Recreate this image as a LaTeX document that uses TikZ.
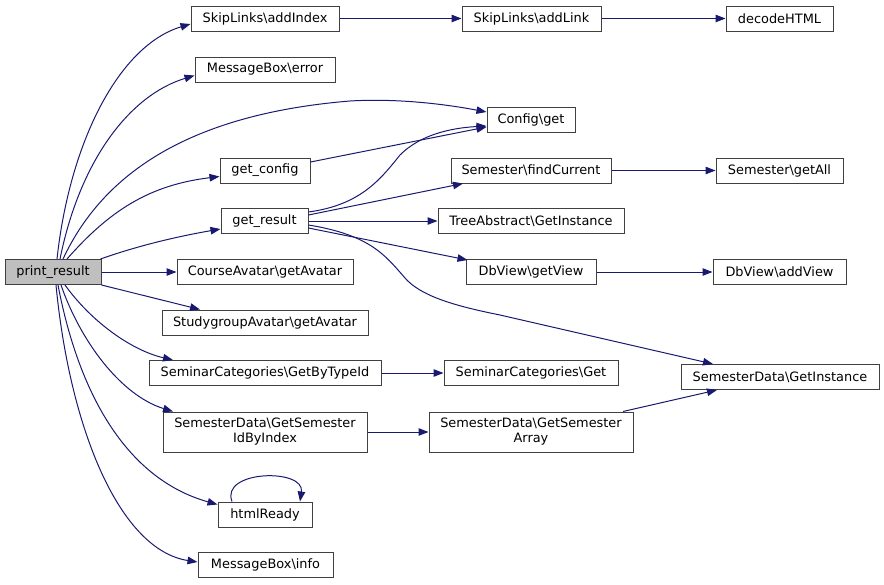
\documentclass[tikz,border=0pt]{standalone}
\usepackage{fontspec}
\setmainfont{DejaVu Sans}
\usetikzlibrary{arrows.meta}
\definecolor{edgec}{HTML}{191970}
\definecolor{boxc}{HTML}{404040}
\definecolor{hil}{HTML}{BFBFBF}
\begin{document}
\begin{tikzpicture}[x=1pt,y=-1pt,
  box/.style={draw=boxc,line width=1pt,inner sep=0pt,minimum height=25pt,font=\fontsize{12.9}{15}\selectfont,align=center},
  tall/.style={box,minimum height=40pt},
  edge/.style={draw=edgec,line width=1pt,-{Triangle[length=10pt,width=7.5pt]},fill=none},
]
\useasboundingbox (0,0) rectangle (884,584);
\node[box,fill=hil,minimum width=96pt] (pr) at (53,272) {print\_result};
\node[box,minimum width=148pt] (addIndex) at (265,18.5) {SkipLinks\textbackslash addIndex};
\node[box,minimum width=139pt] (addLink) at (531.5,18.5) {SkipLinks\textbackslash addLink};
\node[box,minimum width=107pt] (decode) at (779.5,18.5) {decodeHTML};
\node[box,minimum width=140pt] (mberror) at (265,69.5) {MessageBox\textbackslash error};
\node[box,minimum width=88pt] (cfg) at (531,119.5) {Config\textbackslash get};
\node[box,minimum width=90pt] (getcfg) at (265,170.5) {get\_config};
\node[box,minimum width=160pt] (findcur) at (531,170.5) {Semester\textbackslash findCurrent};
\node[box,minimum width=127pt] (getall) at (779.5,170.5) {Semester\textbackslash getAll};
\node[box,minimum width=87pt] (getres) at (264.5,221) {get\_result};
\node[box,minimum width=186pt] (tree) at (531,221) {TreeAbstract\textbackslash GetInstance};
\node[box,minimum width=130pt] (getview) at (531,272) {DbView\textbackslash getView};
\node[box,minimum width=133pt] (addview) at (779.5,272) {DbView\textbackslash addView};
\node[box,minimum width=176pt] (course) at (265,272) {CourseAvatar\textbackslash getAvatar};
\node[box,minimum width=206pt] (study) at (265,322.5) {StudygroupAvatar\textbackslash getAvatar};
\node[box,minimum width=232pt] (bytype) at (265,373) {SeminarCategories\textbackslash GetByTypeId};
\node[box,minimum width=174pt] (semget) at (531,373) {SeminarCategories\textbackslash Get};
\node[box,minimum width=198pt] (sdinst) at (780,377) {SemesterData\textbackslash GetInstance};
\node[tall,minimum width=204pt] (idbyidx) at (265,432) {SemesterData\textbackslash GetSemester\\IdByIndex};
\node[tall,minimum width=204pt] (semarr) at (531,432) {SemesterData\textbackslash GetSemester\\Array};
\node[box,minimum width=94pt] (html) at (265,514.5) {htmlReady};
\node[box,minimum width=135pt] (info) at (265.5,565) {MessageBox\textbackslash info};

% edges from print_result
\draw[edge] ([xshift=4]pr.north) .. controls (70,140) and (120,45) .. ([yshift=-5.5]addIndex.west);
\draw[edge] ([xshift=7]pr.north) .. controls (80,160) and (130,95) .. ([yshift=-6]mberror.west);
\draw[edge] ([xshift=10]pr.north) .. controls (100,180) and (180,115) .. (350,101) .. controls (400,98) and (450,105) .. ([yshift=7.5]cfg.west);
\draw[edge] ([xshift=14]pr.north) .. controls (110,210) and (150,185) .. ([yshift=-6]getcfg.west);
\draw[edge] ([xshift=-1]pr.north east) .. controls (140,245) and (180,236) .. ([yshift=-8]getres.west);
\draw[edge] (pr.east) -- (course.west);
\draw[edge] (pr.south east) -- ([xshift=-65]study.north);
\draw[edge] ([xshift=12]pr.south) .. controls (90,320) and (130,350) .. ([xshift=-92]bytype.north);
\draw[edge] ([xshift=8]pr.south) .. controls (80,340) and (120,395) .. ([xshift=-92]idbyidx.north);
\draw[edge] ([xshift=5]pr.south) .. controls (80,400) and (130,480) .. ([yshift=10]html.west);
\draw[edge] ([xshift=3]pr.south) .. controls (70,430) and (120,550) .. ([yshift=3]info.west);

% other edges
\draw[edge] (addIndex.east) -- (addLink.west);
\draw[edge] (addLink.east) -- (decode.west);
\draw[edge] ([yshift=8.5]getcfg.east) -- ([yshift=-7.5]cfg.west);
\draw[edge] ([yshift=9]getres.east) .. controls (360,205) and (380,180) .. (400,155) .. controls (420,135) and (450,128) .. ([yshift=-6.5]cfg.west);
\draw[edge] ([yshift=6]getres.east) -- ([xshift=-68]findcur.south);
\draw[edge] (findcur.east) -- (getall.west);
\draw[edge] (getres.east) -- (tree.west);
\draw[edge] ([yshift=-7]getres.east) -- ([xshift=2,yshift=-1]getview.north west);
\draw[edge] ([yshift=-4]getres.east) .. controls (370,235) and (385,255) .. (405,278) .. controls (420,295) and (450,305) .. (500,315) -- ([xshift=-67]sdinst.north);
\draw[edge] (getview.east) -- (addview.west);
\draw[edge] (bytype.east) -- (semget.west);
\draw[edge] (idbyidx.east) -- (semarr.west);
\draw[edge] ([xshift=92]semarr.north) -- ([xshift=-63]sdinst.south);
\draw[edge] ([xshift=-33]html.north) .. controls (220,470) and (305,468) .. ([xshift=35]html.north);
\end{tikzpicture}
\end{document}
